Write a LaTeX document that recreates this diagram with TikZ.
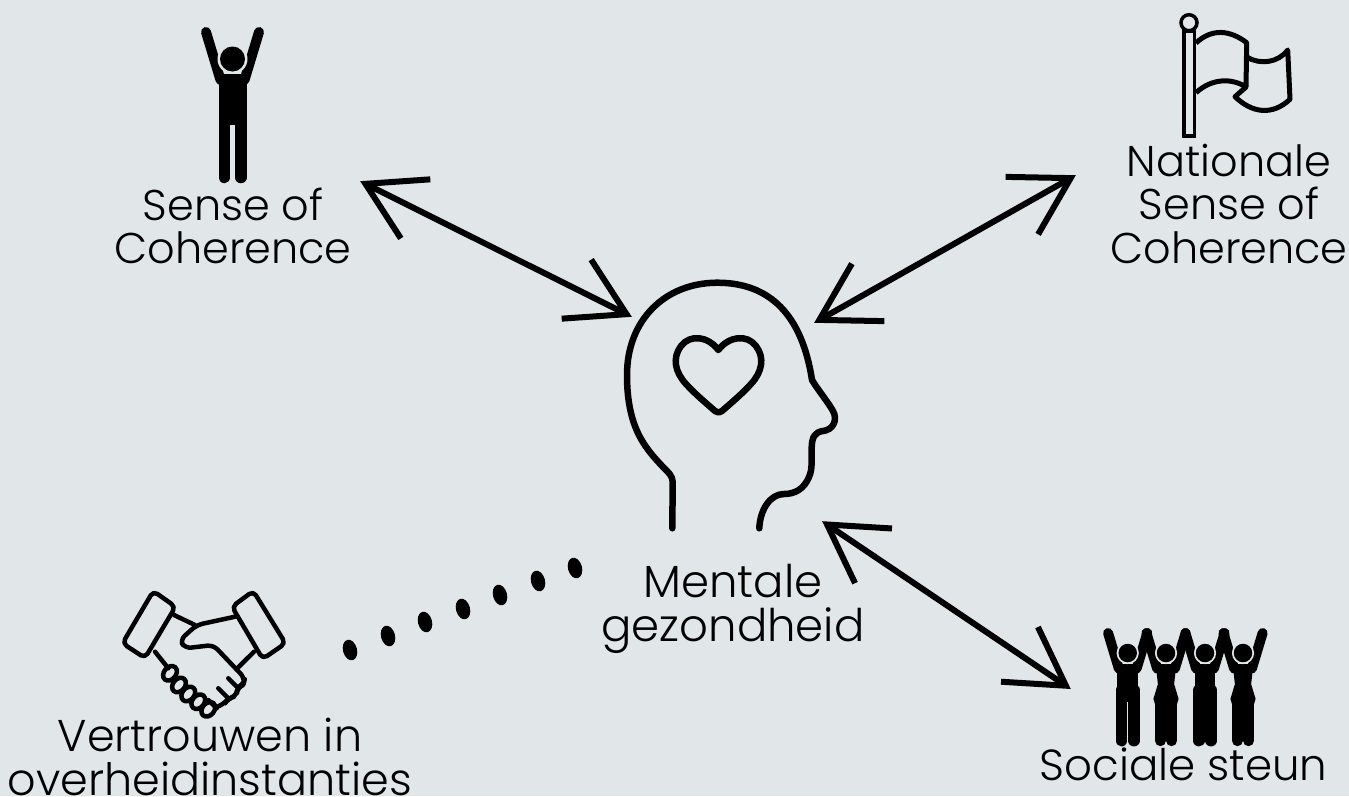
\documentclass[tikz,border=0pt]{standalone}
\usepackage{fontspec}
\setmainfont{Poppins Light}
\usetikzlibrary{arrows.meta,shapes.geometric,positioning}
\definecolor{bgcol}{HTML}{E1E7E9}
\tikzset{
  label/.style={align=center,inner sep=0pt,font=\fontsize{#1}{43.5}\selectfont},
  iconbox/.style={inner sep=0pt,minimum width=#1},
  link/.style={line width=6pt,
    {Straight Barb[length=56pt,width=66pt]}-{Straight Barb[length=56pt,width=66pt]}},
  outline/.style={line width=6.5pt,line cap=round,line join=round},
  thinline/.style={line width=4.5pt,line cap=round,line join=round},
  dotmark/.style={ellipse,fill=black,inner sep=0pt,minimum width=21pt,minimum height=14pt,rotate=105},
  knuckle/.style={ellipse,draw=black,line width=4.5pt,inner sep=0pt,minimum width=16pt,minimum height=12pt,rotate=50},
  man/.pic={
    \draw[line width=10pt,line cap=round] (-26.5,-27) -- (-12,21);
    \draw[line width=10pt,line cap=round] (26.5,-27) -- (12,21);
    \fill (-14,15) rectangle (14,66);
    \draw[line width=11.5pt,line cap=round] (-8.25,50) -- (-8.25,118.5);
    \draw[line width=11.5pt,line cap=round] (8.25,50) -- (8.25,118.5);
    \fill[bgcol] (0,0) circle (15);
    \fill (0,0) circle (12.5);
  },
  woman/.pic={
    \draw[line width=10pt,line cap=round] (-26.5,-27) -- (-12,21);
    \draw[line width=10pt,line cap=round] (26.5,-27) -- (12,21);
    \fill (-14,15) -- (14,15) -- (11,42) -- (17,62) -- (14,72) -- (-14,72) -- (-17,62) -- (-11,42) -- cycle;
    \draw[line width=11pt,line cap=round] (-7.5,60) -- (-7.5,118.5);
    \draw[line width=11pt,line cap=round] (7.5,60) -- (7.5,118.5);
    \fill[bgcol] (0,0) circle (15);
    \fill (0,0) circle (12.5);
  }
}

\begin{document}
\begin{tikzpicture}[x=1pt,y=-1pt]
\fill[bgcol] (0,0) rectangle (1349,796);
\useasboundingbox (0,0) rectangle (1349,796);

% icons
\node[iconbox=61pt,minimum height=158pt] (person) at (232.5,106) {};
\node[iconbox=112pt,minimum height=125pt] (flag) at (1236,75.5) {};
\node[iconbox=214pt,minimum height=250pt] (head) at (731,405) {};
\node[iconbox=165pt,minimum height=135pt] (shake) at (204,654) {};
\node[iconbox=162pt,minimum height=117pt] (group) at (1186,686.5) {};

% labels
\node[label=43] (cohlabel) at (233,226) {Sense of\\Coherence};
\node[label=43] (natlabel) at (1229,203.5) {Nationale\\Sense of\\Coherence};
\node[label=45] (headlabel) at (733,609) {Mentale\\gezondheid};
\node[label=44.5] (shakelabel) at (210,757) {Vertrouwen in\\overheidinstanties};
\node[label=43.5] (grouplabel) at (1183.5,764) {Sociale steun};

\pic at (232.5,59) {man};

% flag
\draw[line width=3.5pt] (1184,31) rectangle (1194.5,136);
\draw[line width=3.5pt] (1189,22.7) circle (8);
\draw[line width=5pt,line join=round]
  (1196,43) .. controls (1212,28) and (1230,30) .. (1246.7,42.7)
  -- (1246,87) .. controls (1232,78) and (1212,78) .. (1196,92.7);
\draw[line width=5pt,line join=round]
  (1246.7,57) .. controls (1260,65) and (1278,63) .. (1287.7,50)
  -- (1290,99.3) .. controls (1272,116) and (1252,113) .. (1235,96.7) -- (1246,87);

% head
\draw[outline] (672.3,528.3) -- (672.7,482) .. controls (672.7,476) and (668,472) .. (664,468)
  .. controls (645,448) and (627,428) .. (627,375)
  .. controls (627,320) and (665,283) .. (716.7,282.7)
  .. controls (770,282.5) and (802,315) .. (812,380)
  .. controls (818,390) and (828,402) .. (833,411)
  .. controls (838,420) and (833,430) .. (823,431)
  .. controls (815,432) and (812,437) .. (811.7,447)
  .. controls (811,460) and (813,468) .. (809,477)
  .. controls (804,489) and (795,494) .. (784,494)
  .. controls (770,494) and (760,510) .. (759.3,528.3);
\draw[outline] (718.3,350) .. controls (708,336) and (690,334) .. (681,346)
  .. controls (672,358) and (675,372) .. (686,384)
  .. controls (695,394) and (706,403) .. (715,411)
  .. controls (717,413) and (720,413) .. (722,411)
  .. controls (731,403) and (742,394) .. (751,384)
  .. controls (762,372) and (765,358) .. (756,346)
  .. controls (747,334) and (729,336) .. (718.3,350) -- cycle;

% handshake
\draw[thinline,rounded corners=5pt] (153.3,591) -- (175.5,606.7) -- (145,658) -- (122.5,643.3) -- cycle;
\draw[thinline,rounded corners=5pt] (253.3,591) -- (285.5,643.3) -- (262.7,659) -- (232,606.7) -- cycle;
\draw[thinline] (174,615) -- (195,625);
\draw[thinline] (155,651.7) -- (168.3,668.3);
\draw[thinline] (254,651.7) -- (237.3,668.3);
\draw[thinline,rounded corners=6pt] (235,616.7) -- (196.7,625) -- (180,640) -- (185,648.3) -- (213.3,645) -- (245,678.3)
  -- (243.3,685) -- (237.3,687.3) -- (236.7,696) -- (228.3,698.3) -- (225,703.3) -- (216.7,707);
\draw[thinline] (228.3,678.3) -- (237.3,687.3);
\draw[thinline] (218.3,688.3) -- (228.3,698.3);
\draw[thinline] (208.3,700) -- (216.7,708.3);
\node[knuckle] (knuckle1) at (170,673.3) {};
\node[knuckle] (knuckle2) at (179,685) {};
\node[knuckle] (knuckle3) at (188.3,694) {};
\node[knuckle] (knuckle4) at (198.3,701.7) {};
\node[knuckle] (knuckle5) at (208.3,709.3) {};

% group
\pic[scale=0.74] at (1127.7,653) {man};
\pic[scale=0.74] at (1166,653) {woman};
\pic[scale=0.74] at (1205,653) {man};
\pic[scale=0.74] at (1243,653) {woman};

% dots
\node[dotmark] (dot1) at (350,650) {};
\node[dotmark] (dot2) at (388,636) {};
\node[dotmark] (dot3) at (425,622) {};
\node[dotmark] (dot4) at (463,609) {};
\node[dotmark] (dot5) at (500,595) {};
\node[dotmark] (dot6) at (538,581) {};
\node[dotmark] (dot7) at (575,568) {};

% links
\coordinate(start) at([xshift=97pt,yshift=4pt]person.south east);
\coordinate(end) at([xshift=8pt,yshift=-37pt]head.north west);
\draw[link] (start) -- (end);

\coordinate(start) at([xshift=-104pt,yshift=-37pt]flag.south west);
\coordinate(end) at([xshift=-24pt,yshift=-43pt]head.north east);
\draw[link] (start) -- (end);

\coordinate(start) at([xshift=-16pt,yshift=9pt]head.south east);
\coordinate(end) at([xshift=-34pt,yshift=-2.5pt]group.west);
\draw[link] (start) -- (end);
\end{tikzpicture}
\end{document}
